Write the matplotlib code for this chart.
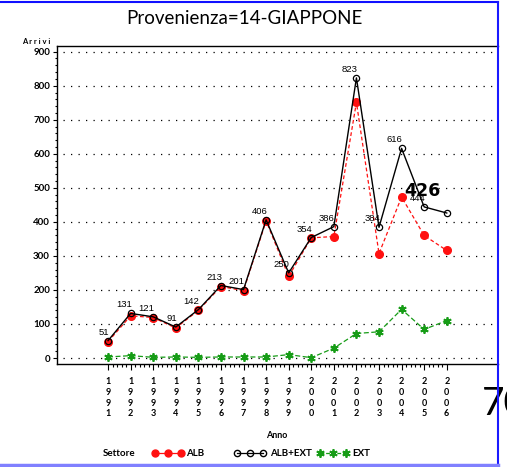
import numpy as np
import matplotlib
matplotlib.use('Agg')
import matplotlib.pyplot as plt
from matplotlib.lines import Line2D
from matplotlib.ticker import FixedLocator

# data
anni = [1991, 1992, 1993, 1994, 1995, 1996, 1997, 1998,
        1999, 2000, 2001, 2002, 2003, 2004, 2005, 2006]
alb = [48, 124, 119, 88, 140, 210, 198, 403,
       240, 353, 357, 751, 307, 473, 360, 316]
alb_ext = [51, 131, 121, 91, 142, 213, 201, 406,
           250, 354, 386, 823, 384, 616, 444, 426]
ext = [3, 7, 2, 3, 2, 3, 3, 3,
       10, 1, 29, 72, 77, 143, 84, 110]
y_ticks = [0, 100, 200, 300, 400, 500, 600, 700, 800, 900]

W, H = 507, 467
NARROW = ['Lato', 'DejaVu Sans']
REG = ['Liberation Sans', 'DejaVu Sans']


def px(x, y):
    # pixel position -> figure fraction
    return x / W, 1 - y / H


fig = plt.figure(figsize=(W / 100, H / 100), dpi=100)
ax = fig.add_axes([57 / W, (H - 364) / H, (498 - 57) / W, (364 - 46) / H])

ax.set_xlim(1988.74, 2008.27)
ax.set_ylim(-17.6, 916.7)

# dotted grid
for v in y_ticks:
    ax.plot([1989.0, 2008.2], [v, v], color='black', lw=0.9,
            linestyle=(0, (1, 5)), zorder=1)

# series
ax.plot(anni, ext, color='#169c16', lw=0.9, linestyle=(0, (4, 2)),
        marker=(6, 2, 0), markersize=6, markeredgewidth=1.3, zorder=3)
ax.plot(anni, alb, color='#ff1010', lw=0.9, linestyle=(0, (3, 2)),
        marker='o', markersize=5.5, markerfacecolor='#ff1010',
        markeredgecolor='#ff1010', zorder=4)
ax.plot(anni, alb_ext, color='black', lw=1.0, marker='o', markersize=4.5,
        markerfacecolor='none', markeredgecolor='black',
        markeredgewidth=0.9, zorder=5)

# value labels (the last one is drawn big, as in the original)
for i, (a, v) in enumerate(zip(anni, alb_ext)):
    if i == len(anni) - 1:
        ax.annotate(str(v), (a, v), xytext=(-24, 22), textcoords='offset pixels',
                    ha='center', va='center', fontsize=12.5, fontweight='bold',
                    family='DejaVu Sans', zorder=6)
    else:
        ax.annotate(str(v), (a, v), xytext=(1, 4), textcoords='offset pixels',
                    ha='right', va='bottom', fontsize=6.8, family=REG, zorder=6)

# axes look
ax.spines['right'].set_visible(False)
for s in ['left', 'bottom', 'top']:
    ax.spines[s].set_linewidth(1.0)

ax.yaxis.set_major_locator(FixedLocator(y_ticks))
ax.yaxis.set_minor_locator(FixedLocator([v for v in range(0, 901, 20) if v % 100]))
ax.set_yticklabels([str(v) for v in y_ticks], family=NARROW, fontsize=7,
                   fontweight='bold')
ax.tick_params(axis='y', which='major', direction='out', length=3, width=0.8, pad=2)
ax.tick_params(axis='y', which='minor', direction='out', length=1.5, width=0.8)

ax.xaxis.set_major_locator(FixedLocator(anni))
minor_x = [a + k * 0.2 for a in anni[:-1] for k in range(1, 5)]
ax.xaxis.set_minor_locator(FixedLocator(minor_x))
ax.set_xticklabels(['\n'.join(str(a)) for a in anni], family=NARROW,
                   fontsize=6.5, fontweight='bold', linespacing=1.25)
ax.tick_params(axis='x', which='major', direction='out', length=4.5, width=0.8, pad=5)
ax.tick_params(axis='x', which='minor', direction='out', length=2.2, width=0.8)

# texts
fig.text(*px(244, 18), 'Provenienza=14-GIAPPONE', ha='center', va='center',
         fontsize=13.5, family=NARROW)
fig.text(*px(50, 41), 'A r r i v i', ha='right', va='center', fontsize=5.5,
         family=NARROW, fontweight='bold')
fig.text(*px(277, 436), 'Anno', ha='center', va='center', fontsize=6.5,
         family=NARROW, fontweight='bold')
fig.text(*px(103, 453), 'Settore', ha='left', va='center', fontsize=7,
         family=NARROW, fontweight='bold')

# legend entries
leg = [(155, 181, 186, 'ALB', dict(color='#ff1010', marker='o', markersize=5,
                                     linestyle='-', lw=0.9)),
       (237, 263, 270, 'ALB+EXT', dict(color='black', marker='o', markersize=4.5,
                                         markerfacecolor='none', lw=0.9)),
       (320, 346, 352, 'EXT', dict(color='#169c16', marker=(6, 2, 0),
                                     markersize=6, markeredgewidth=1.3,
                                     linestyle=(0, (3, 1.5)), lw=0.9))]
for x1, x2, xt, lab, kw in leg:
    xs = [x1 / W, (x1 + x2) / 2 / W, x2 / W]
    y = 1 - 453 / H
    fig.add_artist(Line2D(xs, [y, y, y], transform=fig.transFigure, **kw))
    fig.text(*px(xt, 453), lab, ha='left', va='center', fontsize=7,
             family=NARROW, fontweight='bold')

# cut-off text at right edge
fig.text(*px(482, 404), '70', ha='left', va='center', fontsize=28,
         family=NARROW, color='black')

# blue frame, on top of everything
fig.add_artist(Line2D([0, 498 / W], [1 - 2 / H, 1 - 2 / H], transform=fig.transFigure,
                      color='#1010ff', lw=1.5, zorder=10))
fig.add_artist(Line2D([498 / W, 498 / W], [1 - 2 / H, 1 - 465 / H],
                      transform=fig.transFigure, color='#1a1aff', lw=1.5, zorder=10))
fig.add_artist(Line2D([0, 498 / W], [1 - 465 / H, 1 - 465 / H],
                      transform=fig.transFigure, color='#8080ff', lw=2.5, zorder=10))

fig.savefig('out.png', dpi=100)
